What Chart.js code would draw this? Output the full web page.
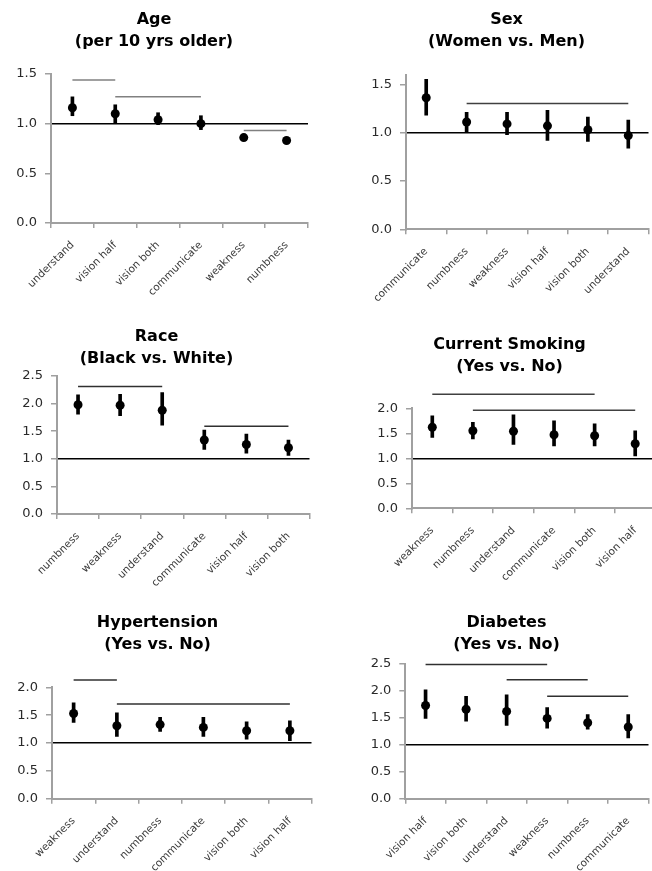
<!DOCTYPE html>
<html>
<head>
<meta charset="utf-8">
<script src="https://cdn.jsdelivr.net/npm/chart.js@4.4.1/dist/chart.umd.min.js"></script>
<style>
  html, body { margin: 0; padding: 0; background: #fff; overflow: hidden; }
  body { width: 652px; height: 871px; position: relative; }
  canvas { position: absolute; }
</style>
</head>
<body>
<canvas id="age"></canvas>
<canvas id="sex"></canvas>
<canvas id="race"></canvas>
<canvas id="smoking"></canvas>
<canvas id="hyper"></canvas>
<canvas id="diabetes"></canvas>
<script>
// Odds ratios with 95% CI per symptom

// Age (per 10 yrs older)
const ageLabels = ["understand", "vision half", "vision both", "communicate", "weakness", "numbness"];
const ageOR = [1.16, 1.10, 1.04, 1.00, 0.86, 0.83];
const ageLow = [1.08, 1.01, 0.99, 0.94, 0.83, 0.81];
const ageHigh = [1.27, 1.19, 1.11, 1.08, 0.89, 0.86];
const ageBrackets = [[0, 1, 1.44], [1, 3, 1.27], [4, 5, 0.93]]; // [from, to, height]

// Sex (Women vs. Men)
const sexLabels = ["communicate", "numbness", "weakness", "vision half", "vision both", "understand"];
const sexOR = [1.36, 1.11, 1.09, 1.07, 1.03, 0.97];
const sexLow = [1.18, 1.01, 0.98, 0.92, 0.91, 0.84];
const sexHigh = [1.55, 1.21, 1.21, 1.23, 1.16, 1.13];
const sexBrackets = [[1, 5, 1.30]];

// Race (Black vs. White)
const raceLabels = ["numbness", "weakness", "understand", "communicate", "vision half", "vision both"];
const raceOR = [1.98, 1.97, 1.88, 1.34, 1.26, 1.20];
const raceLow = [1.81, 1.78, 1.61, 1.17, 1.10, 1.06];
const raceHigh = [2.16, 2.17, 2.20, 1.52, 1.45, 1.34];
const raceBrackets = [[0, 2, 2.31], [3, 5, 1.59]];

// Current Smoking (Yes vs. No)
const smokeLabels = ["weakness", "numbness", "understand", "communicate", "vision both", "vision half"];
const smokeOR = [1.62, 1.55, 1.54, 1.47, 1.45, 1.29];
const smokeLow = [1.42, 1.39, 1.28, 1.25, 1.25, 1.05];
const smokeHigh = [1.85, 1.72, 1.87, 1.75, 1.69, 1.55];
const smokeBrackets = [[0, 4, 2.28], [1, 5, 1.96]];

// Hypertension (Yes vs. No)
const hyperLabels = ["weakness", "understand", "numbness", "communicate", "vision both", "vision half"];
const hyperOR = [1.53, 1.31, 1.33, 1.28, 1.22, 1.22];
const hyperLow = [1.37, 1.12, 1.21, 1.12, 1.07, 1.04];
const hyperHigh = [1.72, 1.54, 1.46, 1.46, 1.38, 1.40];
const hyperBrackets = [[0, 1, 2.13], [1, 5, 1.70]];

// Diabetes (Yes vs. No)
const diabLabels = ["vision half", "vision both", "understand", "weakness", "numbness", "communicate"];
const diabOR = [1.73, 1.66, 1.62, 1.49, 1.41, 1.33];
const diabLow = [1.49, 1.44, 1.36, 1.31, 1.29, 1.13];
const diabHigh = [2.02, 1.90, 1.93, 1.69, 1.56, 1.56];
const diabBrackets = [[0, 3, 2.49], [2, 4, 2.21], [3, 5, 1.90]];

const panels = [
    {id: "age", title: ["Age", "(per 10 yrs older)"], labels: ageLabels, or: ageOR, lo: ageLow, hi: ageHigh, brackets: ageBrackets, max: 1.5, bracketColor: "#808080"},
    {id: "sex", title: ["Sex", "(Women vs. Men)"], labels: sexLabels, or: sexOR, lo: sexLow, hi: sexHigh, brackets: sexBrackets, max: 1.6, bracketColor: "#404040"},
    {id: "race", title: ["Race", "(Black vs. White)"], labels: raceLabels, or: raceOR, lo: raceLow, hi: raceHigh, brackets: raceBrackets, max: 2.5, bracketColor: "#303030"},
    {id: "smoking", title: ["Current Smoking", "(Yes vs. No)"], labels: smokeLabels, or: smokeOR, lo: smokeLow, hi: smokeHigh, brackets: smokeBrackets, max: 2.0, bracketColor: "#404040"},
    {id: "hyper", title: ["Hypertension", "(Yes vs. No)"], labels: hyperLabels, or: hyperOR, lo: hyperLow, hi: hyperHigh, brackets: hyperBrackets, max: 2.0, bracketColor: "#303030"},
    {id: "diabetes", title: ["Diabetes", "(Yes vs. No)"], labels: diabLabels, or: diabOR, lo: diabLow, hi: diabHigh, brackets: diabBrackets, max: 2.5, bracketColor: "#303030"}
];

// Canvas placement and box sizes for each panel (canvases overlap a little so long labels are not cut)
const boxes = {
    age:      {left: 0,   top: 0,   w: 314, h: 315, yW: 51, xH: 92,   padR: 6, pt: 9,  pb: 21},
    sex:      {left: 360, top: 0,   w: 293, h: 315, yW: 46, xH: 85.7, padR: 0, pt: 9,  pb: 21.6},
    race:     {left: 0,   top: 290, w: 314, h: 315, yW: 57, xH: 91,   padR: 1, pt: 35.7, pb: 6.3},
    smoking:  {left: 360, top: 290, w: 300, h: 315, yW: 52, xH: 96.7, padR: 1, pt: 44, pb: 30.3},
    hyper:    {left: 0,   top: 580, w: 316, h: 291, yW: 52, xH: 72.3, padR: 1, pt: 31.7, pb: 31.6},
    diabetes: {left: 360, top: 580, w: 293, h: 291, yW: 45.3, xH: 72.3, padR: 0, pt: 31.7, pb: 8.3}
};

const axisGray = "#a0a0a0";

function makeChart(p) {
    const b = boxes[p.id];
    const cv = document.getElementById(p.id);
    cv.width = b.w;
    cv.height = b.h;
    cv.style.left = b.left + "px";
    cv.style.top = b.top + "px";

    let datasets = [];

    // points
    datasets.push({
        type: "line",
        data: p.or,
        showLine: false,
        pointRadius: 4.5,
        pointHoverRadius: 4.5,
        pointBackgroundColor: "#000",
        pointBorderColor: "#000",
        pointBorderWidth: 0,
        order: 0
    });

    // CI whiskers as floating bars
    datasets.push({
        type: "bar",
        data: p.lo.map((l, i) => [l, p.hi[i]]),
        backgroundColor: "#000",
        borderWidth: 0,
        barThickness: 3,
        order: 1
    });

    // significance brackets
    p.brackets.forEach(br => {
        datasets.push({
            type: "line",
            data: p.labels.map((_, i) => (i >= br[0] && i <= br[1]) ? br[2] : null),
            borderColor: p.bracketColor,
            borderWidth: 1.5,
            pointRadius: 0,
            spanGaps: false,
            clip: false,
            order: 2
        });
    });

    return new Chart(cv, {
        type: "bar",
        data: {labels: p.labels, datasets: datasets},
        options: {
            responsive: false,
            animation: false,
            devicePixelRatio: 1,
            layout: {padding: {left: 0, right: b.padR, top: 0, bottom: 0}},
            plugins: {
                legend: {display: false},
                tooltip: {enabled: false},
                title: {
                    display: true,
                    text: p.title,
                    color: "#000",
                    font: {family: "DejaVu Sans", size: 16, weight: "bold", lineHeight: 22 / 16},
                    padding: {top: b.pt, bottom: b.pb}
                }
            },
            scales: {
                x: {
                    type: "category",
                    offset: true,
                    grid: {offset: true, drawOnChartArea: false, drawTicks: true, tickLength: 5, color: axisGray, lineWidth: 1.5},
                    border: {color: axisGray, width: 2},
                    ticks: {
                        autoSkip: false,
                        minRotation: 45,
                        maxRotation: 45,
                        padding: 11,
                        color: "#3a3a3a",
                        font: {family: "DejaVu Sans", size: 10.5}
                    },
                    afterFit: s => { s.height = b.xH; }
                },
                y: {
                    min: 0,
                    max: p.max,
                    grid: {
                        color: c => (c.tick && c.tick.value === 1) ? "#000" : "rgba(0,0,0,0)",
                        lineWidth: 1.5,
                        tickColor: axisGray,
                        tickLength: 6,
                        tickWidth: 1.5
                    },
                    border: {color: axisGray, width: 2},
                    ticks: {
                        stepSize: 0.5,
                        includeBounds: false,
                        padding: 8,
                        color: "#2a2a2a",
                        font: {family: "DejaVu Sans", size: 13},
                        callback: v => Number(v).toFixed(1)
                    },
                    afterFit: s => { s.width = b.yW; }
                }
            }
        }
    });
}

panels.forEach(makeChart);
</script>
</body>
</html>
